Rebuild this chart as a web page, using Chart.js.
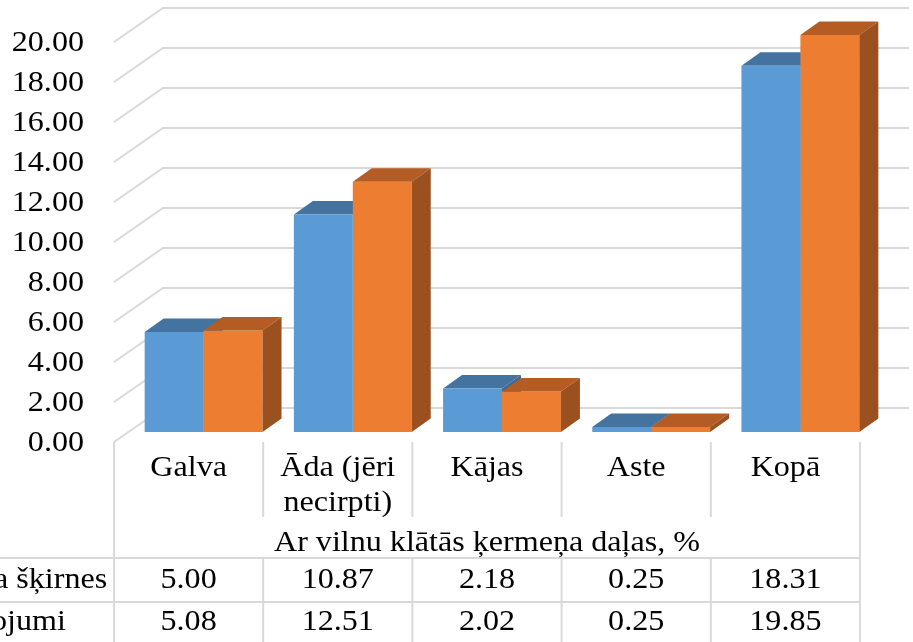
<!DOCTYPE html>
<html>
<head>
<meta charset="utf-8">
<script src="https://cdn.jsdelivr.net/npm/chart.js@4/dist/chart.umd.min.js"></script>
<style>
  html, body { margin: 0; padding: 0; background: #ffffff; }
  #wrap { width: 913px; height: 642px; position: relative; }
</style>
</head>
<body>
<div id="wrap"><canvas id="c" width="913" height="642"></canvas></div>
<script>
// Body parts covered with wool, % (two groups)
const categories = ['Galva', ['Āda (jēri', 'necirpti)'], 'Kājas', 'Aste', 'Kopā'];
const seriesNames = ['a šķirnes', 'ojumi'];
const breedValues = [5.00, 10.87, 2.18, 0.25, 18.31];
const crossValues = [5.08, 12.51, 2.02, 0.25, 19.85];
const yTicks = [0, 2, 4, 6, 8, 10, 12, 14, 16, 18, 20];
const axisTitle = 'Ar vilnu klātās ķermeņa daļas, %';

const FONT = '30px "Liberation Serif", "Times New Roman", serif';
const TEXT_STRETCH = 1.07;
const GRID = '#d9d9d9';
const FRONT = { blue: '#5b9bd5', orange: '#ed7d31' };
const TOP = { blue: '#44739f', orange: '#b45c24' };
const SIDE = { blue: '#3d6a94', orange: '#9a501f' };

// perspective offsets (px)
const WALL_SHIFT = { dx: 15, dy: 10 };   // bar front plane -> front wall
const WALL_DEPTH = { dx: 49, dy: -34 };  // front wall -> back wall
const BAR_DEPTH = { dx: 19, dy: -13.5 }; // depth of each bar

function fmt(v) { return v.toFixed(2); }

// text drawn slightly wide, like the serif face of the original layout
function label(ctx, str, x, y, align) {
  ctx.save();
  ctx.translate(x, y);
  ctx.scale(TEXT_STRETCH, 1);
  ctx.textAlign = align;
  ctx.fillText(str, 0, 0);
  ctx.restore();
}

function quad(ctx, pts, color) {
  ctx.beginPath();
  ctx.moveTo(pts[0][0], pts[0][1]);
  for (let i = 1; i < pts.length; i++) ctx.lineTo(pts[i][0], pts[i][1]);
  ctx.closePath();
  ctx.fillStyle = color;
  ctx.fill();
}

function topFace(ctx, bar, color) {
  const l = bar.x - bar.width / 2, r = bar.x + bar.width / 2, t = bar.y;
  quad(ctx, [[l, t], [r, t], [r + BAR_DEPTH.dx, t + BAR_DEPTH.dy], [l + BAR_DEPTH.dx, t + BAR_DEPTH.dy]], color);
}
function sideFace(ctx, bar, color) {
  const r = bar.x + bar.width / 2, t = bar.y, b = bar.base;
  quad(ctx, [[r, t], [r + BAR_DEPTH.dx, t + BAR_DEPTH.dy], [r + BAR_DEPTH.dx, b + BAR_DEPTH.dy], [r, b]], color);
}

const walls3d = {
  id: 'walls3d',
  beforeDatasetsDraw(chart) {
    const ctx = chart.ctx, y = chart.scales.y, area = chart.chartArea;
    const fx = area.left - WALL_SHIFT.dx;
    const bx = fx + WALL_DEPTH.dx;
    const right = area.right - WALL_SHIFT.dx + WALL_DEPTH.dx;
    ctx.save();
    ctx.strokeStyle = GRID;
    ctx.lineWidth = 2;
    yTicks.forEach(v => {
      const fy = y.getPixelForValue(v) + WALL_SHIFT.dy;
      const by = fy + WALL_DEPTH.dy;
      ctx.beginPath();
      ctx.moveTo(fx, fy);
      ctx.lineTo(bx, by);
      ctx.lineTo(right, by);
      ctx.stroke();
    });
    // tick labels on the front edge of the side wall
    ctx.fillStyle = '#000';
    ctx.font = FONT;
    ctx.textBaseline = 'middle';
    yTicks.forEach(v => {
      label(ctx, fmt(v), 84, y.getPixelForValue(v) + WALL_SHIFT.dy + 1, 'right');
    });
    // first series: side and top faces sit behind the second series
    const m0 = chart.getDatasetMeta(0);
    m0.data.forEach(bar => {
      sideFace(ctx, bar, SIDE.blue);
      topFace(ctx, bar, TOP.blue);
    });
    ctx.restore();
  },
  afterDatasetsDraw(chart) {
    const ctx = chart.ctx;
    ctx.save();
    const m1 = chart.getDatasetMeta(1);
    m1.data.forEach(bar => {
      topFace(ctx, bar, TOP.orange);
      sideFace(ctx, bar, SIDE.orange);
    });
    ctx.restore();
  },
  afterDraw(chart) {
    const ctx = chart.ctx, area = chart.chartArea;
    const n = categories.length;
    const colW = area.width / n;
    const edges = [];
    for (let i = 0; i <= n; i++) edges.push(area.left - WALL_SHIFT.dx + i * colW);
    const top = area.bottom + WALL_SHIFT.dy;
    const rowTop = 558, rowMid = 602, bottom = 645;
    ctx.save();
    ctx.strokeStyle = GRID;
    ctx.lineWidth = 2;
    ctx.beginPath();
    ctx.moveTo(edges[0], top); ctx.lineTo(edges[0], bottom);
    ctx.moveTo(edges[n], top); ctx.lineTo(edges[n], bottom);
    for (let i = 1; i < n; i++) {
      ctx.moveTo(edges[i], top); ctx.lineTo(edges[i], 517);
      ctx.moveTo(edges[i], rowTop); ctx.lineTo(edges[i], bottom);
    }
    ctx.moveTo(0, rowTop); ctx.lineTo(edges[n], rowTop);
    ctx.moveTo(0, rowMid); ctx.lineTo(edges[n], rowMid);
    ctx.stroke();

    ctx.fillStyle = '#000';
    ctx.font = FONT;
    ctx.textBaseline = 'middle';
    categories.forEach((c, i) => {
      const cx = (edges[i] + edges[i + 1]) / 2;
      const lines = Array.isArray(c) ? c : [c];
      lines.forEach((ln, k) => label(ctx, ln, cx, 468 + k * 35, 'center'));
      label(ctx, fmt(breedValues[i]), cx, 580, 'center');
      label(ctx, fmt(crossValues[i]), cx, 622, 'center');
    });
    label(ctx, axisTitle, (edges[0] + edges[n]) / 2, 543, 'center');
    label(ctx, seriesNames[0], -6, 580, 'left');
    label(ctx, seriesNames[1], -9, 622, 'left');
    ctx.restore();
  }
};

new Chart(document.getElementById('c'), {
  type: 'bar',
  data: {
    labels: categories,
    datasets: [
      { label: seriesNames[0], data: breedValues, backgroundColor: FRONT.blue, borderWidth: 0 },
      { label: seriesNames[1], data: crossValues, backgroundColor: FRONT.orange, borderWidth: 0 }
    ]
  },
  options: {
    responsive: false,
    animation: false,
    devicePixelRatio: 1,
    layout: { padding: { left: 129, right: 38, top: 32, bottom: 210 } },
    datasets: { bar: { categoryPercentage: 0.79, barPercentage: 1.0 } },
    scales: {
      x: { display: false },
      y: { display: false, min: 0, max: 20 }
    },
    plugins: { legend: { display: false }, tooltip: { enabled: false } }
  },
  plugins: [walls3d]
});
</script>
</body>
</html>
